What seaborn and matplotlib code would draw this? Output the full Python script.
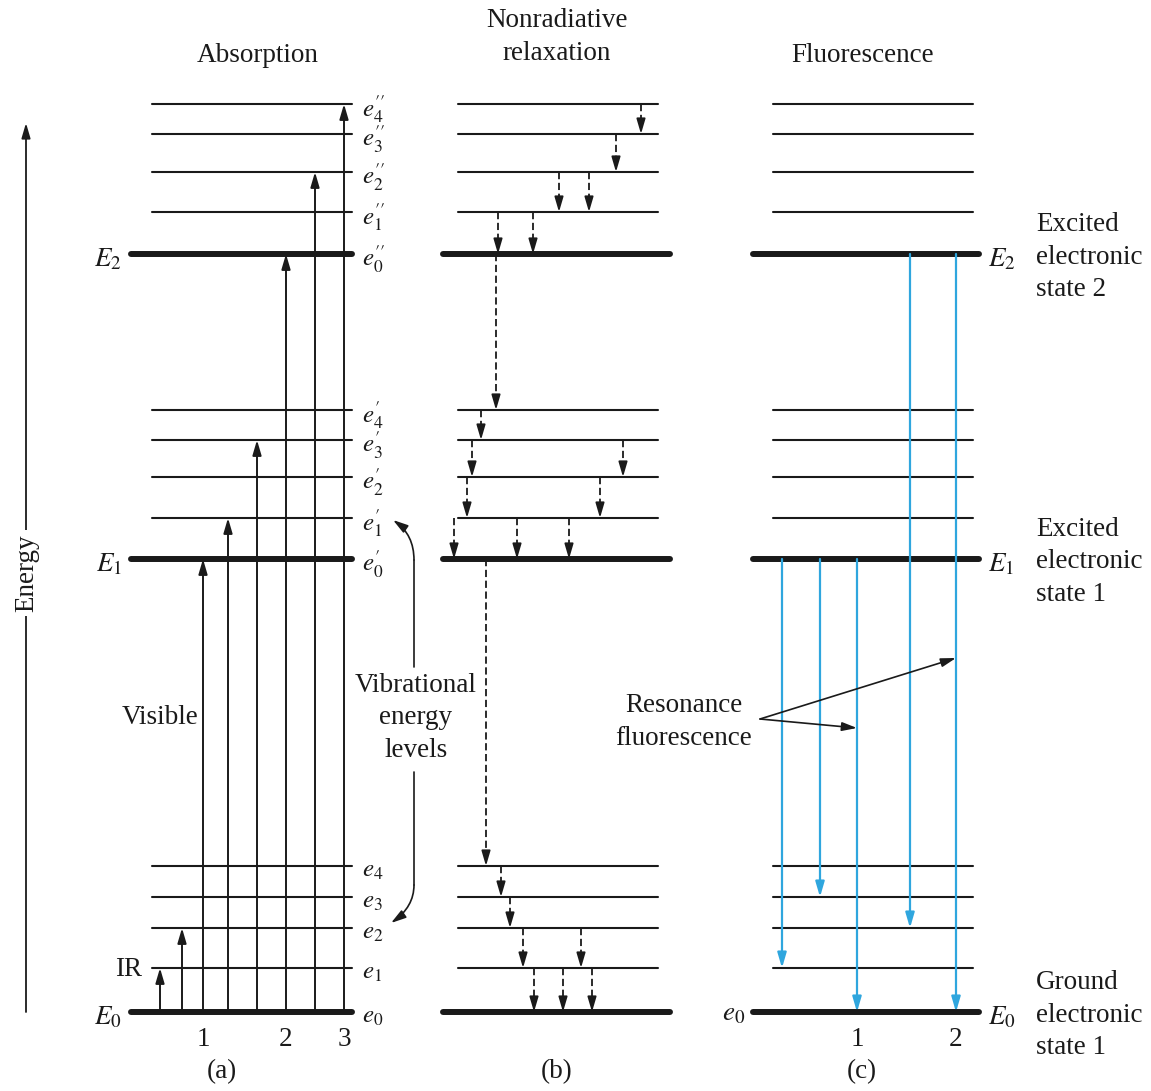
import pandas as pd
import seaborn as sns
import matplotlib.pyplot as plt

# Energy of every level, measured up from E0 (arbitrary units)
ground = [0, 44, 84, 115, 146]
first = [453, 494, 535, 572, 602]
second = [758, 800, 840, 878, 908]
levels = ground + first + second

ground_names = [r"$e_0$", r"$e_1$", r"$e_2$", r"$e_3$", r"$e_4$"]
first_names = [r"$e_0^{\prime}$", r"$e_1^{\prime}$", r"$e_2^{\prime}$",
               r"$e_3^{\prime}$", r"$e_4^{\prime}$"]
second_names = [r"$e_0^{\prime\prime}$", r"$e_1^{\prime\prime}$", r"$e_2^{\prime\prime}$",
                r"$e_3^{\prime\prime}$", r"$e_4^{\prime\prime}$"]
level_names = ground_names + first_names + second_names

panel_titles = ["Absorption", "Nonradiative\nrelaxation", "Fluorescence"]
panel_names = ["(a)", "(b)", "(c)"]

# absorption: arrow position and the level it reaches (all start at e0)
abs_x = [160, 182, 203, 228, 257, 286, 315, 344]
abs_to = [1, 2, 5, 6, 8, 10, 12, 14]
abs_ticks = {2: "1", 5: "2", 7: "3"}

# nonradiative relaxation: arrow position, from level, to level
nr_x = [641, 616, 559, 589, 498, 533, 496,
        481, 472, 623, 467, 600, 454, 517, 569, 486,
        501, 510, 523, 581, 534, 563, 592]
nr_from = [14, 13, 12, 12, 11, 11, 10,
           9, 8, 8, 7, 7, 6, 6, 6, 5,
           4, 3, 2, 2, 1, 1, 1]
nr_to = [13, 12, 11, 11, 10, 10, 9,
         8, 7, 7, 6, 6, 5, 5, 5, 4,
         3, 2, 1, 1, 0, 0, 0]

# fluorescence
fl_x = [782, 820, 857, 910, 956]
fl_from = [5, 5, 5, 10, 10]
fl_to = [1, 3, 0, 2, 0]
fl_ticks = {2: "1", 4: "2"}

# layout of the three panels (pixels)
thin_left = [152, 458, 773]
thin_right = [352, 658, 973]
thick_left = [131, 443, 753]
thick_right = [352, 670, 979]

sns.set_theme(style="white")
plt.rcParams["font.family"] = ["Liberation Serif", "DejaVu Serif"]
plt.rcParams["mathtext.fontset"] = "stix"

INK = "#1a1a1a"
BLUE = "#2fa6de"
FS = 19.5
LS = 1.42

fig = plt.figure(figsize=(11.51, 10.91), dpi=100)
ax = fig.add_axes([0, 0, 1, 1])
ax.set_xlim(0, 1151)
ax.set_ylim(1012 - 1091, 1012)
ax.axis("off")


def Y(py):
    # pixel row -> energy units
    return 1012 - py


# energy levels
rows = []
for p in range(3):
    for i, e in enumerate(levels):
        kind = "thick" if i % 5 == 0 else "thin"
        x0 = thick_left[p] if kind == "thick" else thin_left[p]
        x1 = thick_right[p] if kind == "thick" else thin_right[p]
        rows.append({"seg": f"{p}-{i}", "x": x0, "y": e, "kind": kind})
        rows.append({"seg": f"{p}-{i}", "x": x1, "y": e, "kind": kind})
df = pd.DataFrame(rows)
sns.lineplot(data=df, x="x", y="y", units="seg", estimator=None, size="kind",
             sizes={"thin": 1.5, "thick": 4.3}, color=INK, legend=False,
             sort=False, ax=ax)

HEAD = "-|>,head_length=0.75,head_width=0.22"


def arrow(x, y0, y1, color=INK, dashed=False, lw=1.4):
    props = dict(arrowstyle=HEAD, color=color, lw=lw, shrinkA=0, shrinkB=0,
                 mutation_scale=12)
    if dashed:
        step = 13 if y1 > y0 else -13
        ax.plot([x, x], [y0, y1 - step], color=color, lw=lw, ls=(0, (4, 2)))
        ax.annotate("", xy=(x, y1), xytext=(x, y1 - step), arrowprops=props)
    else:
        ax.annotate("", xy=(x, y1), xytext=(x, y0), arrowprops=props)


for x, t in zip(abs_x, abs_to):
    arrow(x, levels[0], levels[t])
for x, f, t in zip(nr_x, nr_from, nr_to):
    arrow(x, levels[f], levels[t], dashed=True, lw=1.3)
for x, f, t in zip(fl_x, fl_from, fl_to):
    arrow(x, levels[f], levels[t], color=BLUE, lw=1.6)

# level labels of panel (a)
for name, e in zip(level_names, levels):
    ax.text(362, e - 5, name, fontsize=18, ha="left", va="center", color=INK)

# electronic states
for k, lab in enumerate([r"$E_0$", r"$E_1$", r"$E_2$"]):
    e = levels[5 * k]
    ax.text(122, e - 6, lab, fontsize=FS, ha="right", va="center", color=INK)
    ax.text(988, e - 6, lab, fontsize=FS, ha="left", va="center", color=INK)
ax.text(745, levels[0] - 2, r"$e_0$", fontsize=FS, ha="right", va="center", color=INK)

state_text = ["Ground\nelectronic\nstate 1", "Excited\nelectronic\nstate 1",
              "Excited\nelectronic\nstate 2"]
for k, s in enumerate(state_text):
    ax.text(1036, levels[5 * k] - 3, s, fontsize=FS, ha="left", va="center",
            linespacing=LS, color=INK)

# numbers under the transitions
for i, s in abs_ticks.items():
    ax.text(abs_x[i], Y(1039), s, fontsize=FS, ha="center", va="center", color=INK)
for i, s in fl_ticks.items():
    ax.text(fl_x[i], Y(1039), s, fontsize=FS, ha="center", va="center", color=INK)

# titles and panel names
title_x = [258, 557, 863]
title_y = [55, 37, 55]
for x, y, t in zip(title_x, title_y, panel_titles):
    ax.text(x, Y(y), t, fontsize=FS, ha="center", va="center",
            linespacing=LS, color=INK)
name_x = [222, 557, 862]
for x, n in zip(name_x, panel_names):
    ax.text(x, Y(1072), n, fontsize=FS, ha="center", va="center", color=INK)

ax.text(160, Y(718), "Visible", fontsize=FS, ha="center", va="center", color=INK)
ax.text(129, Y(970), "IR", fontsize=FS, ha="center", va="center", color=INK)

# vibrational energy levels note with curved arrows
ax.text(416, Y(718), "Vibrational\nenergy\nlevels", fontsize=FS, ha="center",
        va="center", linespacing=1.38, color=INK)
ax.plot([414, 414], [Y(667), Y(560)], color=INK, lw=1.2)
ax.plot([414, 414], [Y(772), Y(885)], color=INK, lw=1.2)
curve = dict(arrowstyle=HEAD, color=INK, lw=1.2, shrinkA=0, shrinkB=0,
             mutation_scale=12)
ax.annotate("", xy=(393, Y(520)), xytext=(414, Y(560)),
            arrowprops=dict(curve, connectionstyle="angle3,angleA=90,angleB=-35"))
ax.annotate("", xy=(391, Y(923)), xytext=(414, Y(885)),
            arrowprops=dict(curve, connectionstyle="angle3,angleA=90,angleB=35"))

# resonance fluorescence
ax.text(684, Y(722), "Resonance\nfluorescence", fontsize=FS, ha="center",
        va="center", linespacing=1.38, color=INK)
ax.annotate("", xy=(fl_x[2], Y(728)), xytext=(760, Y(719)), arrowprops=curve)
ax.annotate("", xy=(fl_x[4], Y(658)), xytext=(760, Y(719)), arrowprops=curve)

# energy axis
ax.annotate("", xy=(26, Y(123)), xytext=(26, levels[0]),
            arrowprops=dict(curve, lw=1.3))
ax.text(27, Y(573), "Energy", fontsize=FS, rotation=90, ha="center", va="center",
        color=INK, bbox=dict(facecolor="white", edgecolor="none", pad=3))

fig.savefig("out.png", dpi=100, facecolor="white")
